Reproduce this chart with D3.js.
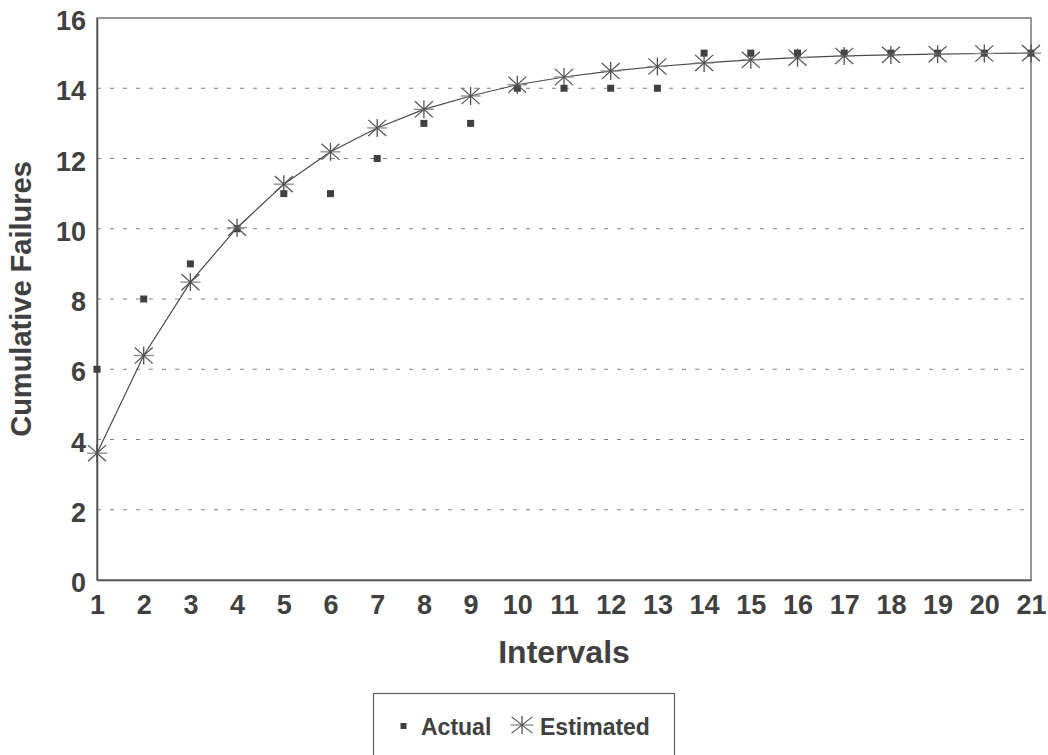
<!DOCTYPE html>
<html>
<head>
<meta charset="utf-8">
<script src="https://cdn.jsdelivr.net/npm/d3@7"></script>
<style>
  html, body { margin: 0; padding: 0; background: #fff; }
  svg { display: block; }
  text { font-family: "Liberation Sans", Arial, sans-serif; font-weight: bold; fill: #404040; }
</style>
</head>
<body>
<svg id="chart" width="1048" height="755"></svg>
<script>
const intervals = [1,2,3,4,5,6,7,8,9,10,11,12,13,14,15,16,17,18,19,20,21];
const actual = [6,8,9,10,11,11,12,13,13,14,14,14,14,15,15,15,15,15,15,15,15];
const estimated = [3.61,6.39,8.48,10.03,11.27,12.19,12.87,13.40,13.78,14.10,14.32,14.49,14.62,14.72,14.81,14.87,14.92,14.95,14.97,14.99,15.00];
const yTicks = [0,2,4,6,8,10,12,14,16];
const seriesNames = ["Actual", "Estimated"];
const xTitle = "Intervals";
const yTitle = "Cumulative Failures";

const svg = d3.select("#chart");
const L = 97, R = 1031, T = 18, B = 580;
const x = d3.scaleLinear().domain([1, 21]).range([L, R]);
const y = d3.scaleLinear().domain([0, 16]).range([B, T]);

// gridlines
svg.append("g").selectAll("line").data(yTicks.filter(v => v > 0 && v < 16)).join("line")
  .attr("x1", L).attr("x2", R)
  .attr("y1", d => y(d)).attr("y2", d => y(d))
  .attr("stroke", "#808080").attr("stroke-width", 1)
  .attr("stroke-dasharray", "4,9");

// plot border
svg.append("rect").attr("x", L).attr("y", T).attr("width", R - L).attr("height", B - T)
  .attr("fill", "none").attr("stroke", "#606060").attr("stroke-width", 1.3);

// axes
const yAxis = d3.axisLeft(y).tickValues(yTicks).tickSize(0).tickPadding(11);
const gy = svg.append("g").attr("transform", `translate(${L},0)`).call(yAxis);
gy.select(".domain").attr("stroke", "#505050").attr("stroke-width", 1.5);
gy.selectAll("text").attr("font-size", 27).attr("dy", "11.5").attr("font-family", "Liberation Sans, Arial, sans-serif").attr("font-weight", "bold").attr("fill", "#404040");

const xAxis = d3.axisBottom(x).tickValues(intervals).tickFormat(d3.format("d")).tickSize(0).tickPadding(0);
const gx = svg.append("g").attr("transform", `translate(0,${B})`).call(xAxis);
gx.select(".domain").attr("stroke", "#505050").attr("stroke-width", 1.5);
gx.selectAll("text").attr("font-size", 27).attr("dy", null).attr("y", 34).attr("font-family", "Liberation Sans, Arial, sans-serif").attr("font-weight", "bold").attr("fill", "#404040");

// titles
svg.append("text").attr("x", (L + R) / 2).attr("y", 663).attr("text-anchor", "middle")
  .attr("font-size", 32).text(xTitle);
svg.append("text").attr("transform", `translate(31,${(T + B) / 2}) rotate(-90)`).attr("text-anchor", "middle")
  .attr("font-size", 29).text(yTitle);

// line for estimated
const line = d3.line().x((d, i) => x(intervals[i])).y(d => y(d));
svg.append("path").datum(estimated).attr("d", line)
  .attr("fill", "none").attr("stroke", "#4a4a4a").attr("stroke-width", 1.2);

// star marker
function star(g, cx, cy, rx, ry) {
  const s = g.append("g").attr("transform", `translate(${cx},${cy})`);
  s.append("line").attr("x1", -rx).attr("x2", rx).attr("y1", 0).attr("y2", 0).attr("stroke", "#8a8a8a").attr("stroke-width", 1.3);
  s.append("line").attr("x1", 0).attr("x2", 0).attr("y1", -ry).attr("y2", ry).attr("stroke", "#505050").attr("stroke-width", 1.3);
  s.append("line").attr("x1", -rx * 0.9).attr("x2", rx * 0.9).attr("y1", -ry * 0.9).attr("y2", ry * 0.9).attr("stroke", "#505050").attr("stroke-width", 1.2);
  s.append("line").attr("x1", -rx * 0.9).attr("x2", rx * 0.9).attr("y1", ry * 0.9).attr("y2", -ry * 0.9).attr("stroke", "#505050").attr("stroke-width", 1.2);
}

// actual squares
svg.append("g").selectAll("rect").data(actual).join("rect")
  .attr("x", (d, i) => x(intervals[i]) - 3.5).attr("y", d => y(d) - 3.5)
  .attr("width", 7).attr("height", 7).attr("fill", "#404040");

const gs = svg.append("g");
estimated.forEach((d, i) => star(gs, x(intervals[i]), y(d), 10, 9));

// legend
const lg = svg.append("g");
lg.append("rect").attr("x", 373.5).attr("y", 693.5).attr("width", 301).attr("height", 80)
  .attr("fill", "#fff").attr("stroke", "#606060").attr("stroke-width", 1.2);
lg.append("rect").attr("x", 400.5).attr("y", 723).attr("width", 6).attr("height", 6).attr("fill", "#404040");
lg.append("text").attr("x", 421).attr("y", 735).attr("font-size", 23).text(seriesNames[0]);
star(lg, 522, 725, 11.5, 9);
lg.append("text").attr("x", 540).attr("y", 735).attr("font-size", 23).text(seriesNames[1]);
</script>
</body>
</html>
